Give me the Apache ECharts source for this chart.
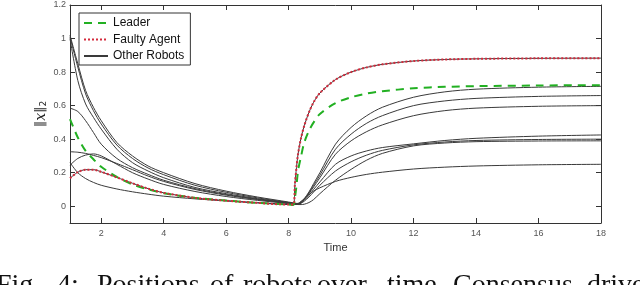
<!DOCTYPE html>
<html><head><meta charset="utf-8">
<script src="https://cdn.jsdelivr.net/npm/echarts@6/dist/echarts.min.js"></script>
<style>html,body{margin:0;padding:0;background:#fff}#c{width:640px;height:285px}</style>
</head><body><div id="c"></div>
<script>
// ---- data ----
const time = [1,1.25,1.5,1.75,2,2.5,3,3.5,4,5,6,7,8,8.15,8.2,8.25,8.3,8.4,8.5,8.65,8.8,9,9.5,10,10.5,11,12,13,14,16,18];
const leader = [0.52,0.41,0.33,0.28,0.235,0.175,0.13,0.1,0.078,0.05,0.034,0.02,0.01,0.008,
  0.05,0.12,0.21,0.3,0.38,0.45,0.5,0.55,0.615,0.65,0.672,0.686,0.703,0.712,0.716,0.72,0.722];
const faulty = [0.167,0.203,0.218,0.218,0.205,0.172,0.137,0.105,0.08,0.05,0.033,0.02,0.01,0.01,
  0.13,0.23,0.31,0.41,0.48,0.56,0.62,0.675,0.755,0.8,0.828,0.846,0.866,0.875,0.879,0.882,0.883];
const robot1 = [1.02,0.85,0.69,0.59,0.51,0.38,0.30,0.24,0.20,0.135,0.09,0.055,0.025,0.02,
  0.018,0.017,0.017,0.025,0.045,0.085,0.135,0.2,0.37,0.47,0.54,0.59,0.65,0.682,0.698,0.71,0.715];
const robot2 = [1.01,0.83,0.67,0.57,0.49,0.365,0.285,0.228,0.188,0.125,0.083,0.05,0.022,0.018,
  0.016,0.015,0.015,0.024,0.042,0.08,0.125,0.185,0.34,0.43,0.495,0.54,0.6,0.628,0.643,0.655,0.66];
const robot3 = [1.0,0.75,0.61,0.53,0.46,0.34,0.26,0.21,0.17,0.112,0.075,0.045,0.02,0.016,
  0.015,0.014,0.014,0.022,0.04,0.075,0.115,0.17,0.31,0.39,0.445,0.485,0.54,0.57,0.585,0.596,0.60];
const robot4 = [0.585,0.565,0.51,0.44,0.37,0.285,0.23,0.19,0.155,0.105,0.07,0.042,0.02,0.015,
  0.014,0.013,0.013,0.02,0.035,0.065,0.1,0.145,0.25,0.3,0.33,0.35,0.372,0.392,0.405,0.418,0.425];
const robot5 = [0.325,0.322,0.315,0.303,0.29,0.255,0.218,0.18,0.148,0.1,0.066,0.04,0.018,0.014,
  0.013,0.012,0.012,0.018,0.03,0.055,0.085,0.125,0.21,0.265,0.305,0.333,0.366,0.383,0.392,0.398,0.40];
const robot6 = [0.245,0.285,0.305,0.312,0.3,0.25,0.2,0.162,0.13,0.088,0.058,0.035,0.016,0.013,
  0.012,0.011,0.01,0.01,0.012,0.022,0.04,0.075,0.155,0.22,0.275,0.315,0.36,0.377,0.385,0.389,0.39];
const robot7 = [0.26,0.2,0.165,0.142,0.125,0.103,0.086,0.072,0.06,0.044,0.032,0.021,0.012,0.01,
  0.01,0.011,0.015,0.03,0.045,0.07,0.09,0.11,0.148,0.172,0.19,0.203,0.222,0.233,0.24,0.247,0.25];
const xTicks = [2,4,6,8,10,12,14,16,18];
const yTicks = [0,0.2,0.4,0.6,0.8,1,1.2];
const legendNames = ['Leader','Faulty Agent','Other Robots'];
const captionWords = ['Fig.','4:','Positions','of','robots','over','time.','Consensus','drive'];

// ---- layout / style ----
const captionX = [-4,57,97,210,243,317,387,453,587];
const pair = arr => time.map((t,i)=>[t,arr[i]]);
const axisColor = '#333';
const blackStyle = {color:'#3a3a3a', width:1};
const robots = [robot1,robot2,robot3,robot4,robot5,robot6,robot7];

const series = robots.map(r => ({
  name:'Other Robots', type:'line', data:pair(r), symbol:'none', smooth:0.3,
  lineStyle:blackStyle, itemStyle:{color:'#3a3a3a'}, z:2
}));
series.push({name:'Other Robots', type:'line', data:pair(faulty), symbol:'none', smooth:0.3,
  lineStyle:blackStyle, itemStyle:{color:'#3a3a3a'}, z:2});
series.push({name:'Leader', type:'line', data:pair(leader), symbol:'none', smooth:0.3,
  lineStyle:{color:'#22b022', width:2, type:[8,6]}, itemStyle:{color:'#22b022'}, z:3});
series.push({name:'Faulty Agent', type:'line', data:pair(faulty), symbol:'none', smooth:0.3,
  lineStyle:{color:'#d42a3c', width:2, type:[2,2]}, itemStyle:{color:'#d42a3c'}, z:4});

function xAx(pos, labels){
  return {type:'value', min:1, max:18, position:pos,
    axisLine:{show:true, onZero:false, lineStyle:{color:axisColor, width:1}},
    axisTick:{show:true, inside:true, length:5, customValues:xTicks, lineStyle:{color:axisColor}},
    axisLabel:{show:labels, customValues:xTicks, color:'#555', fontSize:9, margin:6, fontFamily:'Liberation Sans'},
    splitLine:{show:false}};
}
function yAx(pos, labels){
  return {type:'value', min:-0.1, max:1.2, position:pos,
    axisLine:{show:true, onZero:false, lineStyle:{color:axisColor, width:1}},
    axisTick:{show:true, inside:true, length:5, customValues:yTicks, lineStyle:{color:axisColor}},
    axisLabel:{show:labels, customValues:yTicks, color:'#555', fontSize:9, margin:4, fontFamily:'Liberation Sans',
      formatter:v=>String(+(+v).toFixed(1))},
    splitLine:{show:false}};
}
const xa = [xAx('bottom',true), xAx('top',false)];
xa[0].name='Time'; xa[0].nameLocation='middle'; xa[0].nameGap=17;
xa[0].nameTextStyle={fontSize:11, color:'#333', fontFamily:'Liberation Sans'};
const ya = [yAx('left',true), yAx('right',false)];
ya[0].name='‖{i|x}‖{s|2}'; ya[0].nameLocation='middle'; ya[0].nameGap=22; ya[0].nameRotate=90;
ya[0].nameMoveOverlap=false;
ya[0].nameTextStyle={fontSize:13, color:'#222', fontFamily:'DejaVu Sans',
  rich:{i:{fontSize:14, fontStyle:'italic', fontFamily:'DejaVu Serif', color:'#222'},
        s:{fontSize:9, color:'#222', verticalAlign:'bottom', fontFamily:'DejaVu Sans'}}};

const chart = echarts.init(document.getElementById('c'), null, {renderer:'canvas'});
chart.setOption({
  animation:false,
  backgroundColor:'#fff',
  grid:{left:70, right:39, top:5, bottom:62},
  xAxis:xa, yAxis:ya,
  legend:{data:legendNames, orient:'vertical', left:79, top:13, itemWidth:24, itemHeight:12, itemGap:4.5,
    padding:[4,6,3,4], borderColor:'#333', borderWidth:1, backgroundColor:'#fff',
    itemStyle:{opacity:0},
    textStyle:{fontSize:12, color:'#111', fontFamily:'Liberation Sans'}, z:10},
  series:series,
  graphic:captionWords.map((w,i)=>({type:'text', left:captionX[i], top:272, silent:true,
    style:{text:w, font:'28px "Liberation Serif"', fill:'#111'}}))
});
</script></body></html>
